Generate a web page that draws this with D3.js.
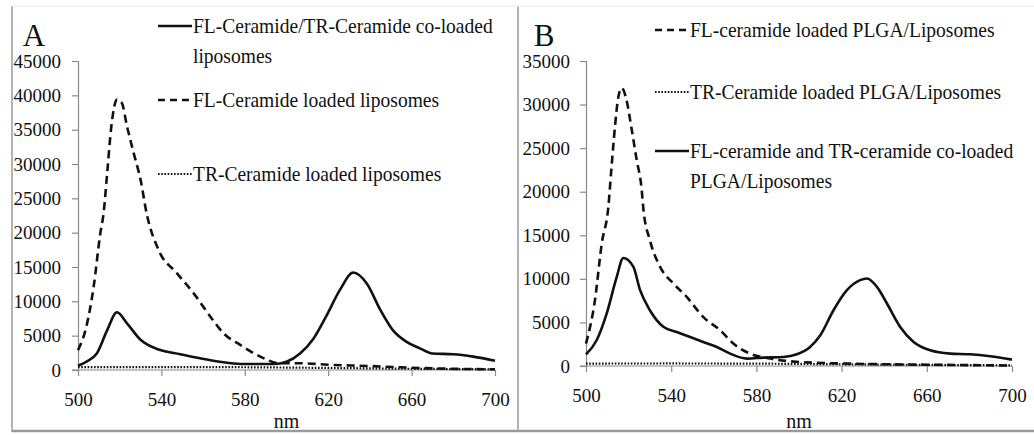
<!DOCTYPE html>
<html>
<head>
<meta charset="utf-8">
<script src="https://cdn.jsdelivr.net/npm/d3@7"></script>
<style>
  body { margin: 0; background: #fff; }
  svg text { font-family: "Liberation Serif", "Times New Roman", serif !important; fill: #111; }
</style>
</head>
<body>
<svg id="chart"></svg>
<script>
const width = 1034;
const height = 435;

// panel A
const coA_nm  = [500, 504, 509, 514, 518.7, 523.5, 530, 539.5, 549, 558.6, 568, 578, 594, 600, 606.5, 613, 619, 625.7, 632, 638.5, 645, 651, 657.6, 664, 670, 680, 689.6, 700];
const coA_val = [630, 1200, 2400, 5800, 8400, 6800, 4400, 2900, 2300, 1700, 1200, 870, 870, 1200, 2400, 4600, 7800, 11700, 14200, 12600, 8750, 5800, 4100, 3150, 2400, 2300, 1950, 1350];

const flA_nm  = [500, 504, 507.5, 510.7, 512.3, 514, 516, 518.7, 521, 523.5, 526.7, 530, 533, 538.6, 547.4, 555.4, 563.4, 569.8, 577.8, 587.4, 597, 606.5, 622.5, 638.5, 654.4, 670, 700];
const flA_val = [2900, 6300, 12100, 19900, 22900, 28700, 35500, 39400, 38900, 35500, 31600, 27700, 22700, 17500, 14100, 11200, 7800, 5350, 3650, 1950, 980, 980, 730, 590, 390, 240, 100];

const trA_nm  = [500, 540, 580, 620, 660, 700];
const trA_val = [420, 430, 400, 300, 180, 100];

// panel B
const flB_nm  = [500, 504.2, 507.4, 510.5, 512, 513.6, 515.2, 516.8, 519, 521.5, 523.8, 526, 527, 530, 534.8, 541, 547.3, 555, 563, 569.2, 577, 586.4, 600.5, 624, 660, 700];
const flB_val = [2570, 7550, 14060, 18270, 22870, 27460, 30900, 31900, 30530, 27080, 23630, 20570, 17890, 14440, 11380, 9470, 7930, 5630, 4100, 2570, 1420, 850, 460, 270, 150, 60];

const trB_nm  = [500, 540, 580, 620, 660, 700];
const trB_val = [280, 290, 270, 200, 130, 80];

const coB_nm  = [500, 505, 509.7, 514.4, 517.5, 522.2, 525.4, 530, 536.3, 542.6, 548.9, 555, 561.4, 567.7, 575.5, 583.3, 592.7, 599, 605.2, 610, 616.2, 622.5, 628.7, 631.9, 636.6, 641.3, 647.5, 653.8, 661.6, 671, 680.4, 689.8, 700];
const coB_val = [1340, 2950, 6000, 10200, 12400, 11400, 8700, 6400, 4500, 3900, 3330, 2760, 2180, 1420, 850, 960, 1030, 1340, 2180, 3530, 6400, 8700, 9850, 10040, 9080, 7170, 4480, 2760, 1800, 1420, 1340, 1110, 730];

const xTicks = [500, 540, 580, 620, 660, 700];
const yTicksA = d3.range(0, 45001, 5000);
const yTicksB = d3.range(0, 35001, 5000);

const serif = '"Liberation Serif", "Times New Roman", serif';

const styles = {
  solid:  { dash: null,    width: 2.6 },
  dashed: { dash: "8,5",   width: 2.6 },
  dotted: { dash: "1.6,1.6", width: 2.2 }
};

const svg = d3.select("#chart")
  .attr("width", width)
  .attr("height", height);

// frame
const frame = svg.append("g").attr("stroke-width", 1.5).attr("fill", "none");
frame.append("line").attr("x1", 12).attr("x2", 12).attr("y1", 6).attr("y2", 432).attr("stroke", "#9a9a9a");
frame.append("line").attr("x1", 518).attr("x2", 518).attr("y1", 6).attr("y2", 432).attr("stroke", "#9a9a9a");
frame.append("line").attr("x1", 12).attr("x2", width).attr("y1", 431).attr("y2", 431).attr("stroke", "#9a9a9a").attr("stroke-width", 2.5);
frame.append("line").attr("x1", 12).attr("x2", width).attr("y1", 6).attr("y2", 6).attr("stroke", "#eef2ee");

function drawPanel(p) {
  const g = svg.append("g");

  const x = d3.scaleLinear().domain([500, 700]).range([p.left, p.right]);
  const y = d3.scaleLinear().domain([0, p.yMax]).range([p.bottom, p.top]);

  const yAxis = d3.axisLeft(y).tickValues(p.yTicks).tickFormat(d3.format("d")).tickSize(6).tickPadding(p.yPad);
  const yg = g.append("g").attr("transform", `translate(${p.left},0)`).call(yAxis);

  const xAxis = d3.axisBottom(x).tickValues(xTicks).tickFormat(d3.format("d")).tickSize(6).tickPadding(17);
  const xg = g.append("g").attr("transform", `translate(0,${p.bottom})`).call(xAxis);

  [yg, xg].forEach(a => {
    a.attr("font-family", null).attr("font-size", null);
    a.select(".domain").attr("stroke", "#8a8a8a").attr("stroke-width", 1.2);
    a.selectAll(".tick line").attr("stroke", "#8a8a8a").attr("stroke-width", 1.2);
    a.selectAll(".tick text").style("font-size", "19px").style("font-family", serif).attr("fill", "#111");
  });
  // x axis starts at the zero tick of the y axis
  xg.select(".domain").attr("d", `M${p.left - 6},0H${p.right}`);

  g.append("text")
    .attr("x", (p.left + p.right) / 2)
    .attr("y", 428)
    .attr("text-anchor", "middle")
    .style("font-size", "20px")
    .text("nm");

  g.append("text")
    .attr("x", p.letterX)
    .attr("y", 46)
    .attr("text-anchor", "middle")
    .style("font-size", "31px")
    .text(p.letter);

  const line = d3.line()
    .x(d => x(d[0]))
    .y(d => y(d[1]))
    .curve(d3.curveMonotoneX);

  p.series.forEach(s => {
    const st = styles[s.style];
    g.append("path")
      .datum(d3.zip(s.nm, s.val))
      .attr("fill", "none")
      .attr("stroke", "#111")
      .attr("stroke-width", st.width)
      .attr("stroke-linejoin", "round")
      .attr("stroke-dasharray", st.dash)
      .attr("d", line);
  });

  // legend
  const lg = g.append("g");
  p.legend.forEach(l => {
    const st = styles[l.style];
    lg.append("line")
      .attr("x1", p.legX).attr("x2", p.legX + 34)
      .attr("y1", l.y - 7).attr("y2", l.y - 7)
      .attr("stroke", "#111")
      .attr("stroke-width", st.width)
      .attr("stroke-dasharray", l.style === "dashed" ? "7,5" : st.dash);
    l.lines.forEach((t, i) => {
      lg.append("text")
        .attr("transform", `translate(${p.legX + 35},${l.y + i * 30}) scale(0.93,1)`)
        .style("font-size", "21px")
        .text(t);
    });
  });
}

drawPanel({
  letter: "A", letterX: 34,
  left: 78, right: 495, top: 61, bottom: 370, yMax: 45000, yTicks: yTicksA, yPad: 11,
  series: [
    { nm: trA_nm, val: trA_val, style: "dotted" },
    { nm: flA_nm, val: flA_val, style: "dashed" },
    { nm: coA_nm, val: coA_val, style: "solid" }
  ],
  legX: 158,
  legend: [
    { style: "solid",  y: 33,  lines: ["FL-Ceramide/TR-Ceramide co-loaded", "liposomes"] },
    { style: "dashed", y: 107, lines: ["FL-Ceramide loaded liposomes"] },
    { style: "dotted", y: 181, lines: ["TR-Ceramide loaded liposomes"] }
  ]
});

drawPanel({
  letter: "B", letterX: 544,
  left: 586, right: 1012, top: 61, bottom: 366, yMax: 35000, yTicks: yTicksB, yPad: 10,
  series: [
    { nm: trB_nm, val: trB_val, style: "dotted" },
    { nm: flB_nm, val: flB_val, style: "dashed" },
    { nm: coB_nm, val: coB_val, style: "solid" }
  ],
  legX: 655,
  legend: [
    { style: "dashed", y: 37,  lines: ["FL-ceramide loaded PLGA/Liposomes"] },
    { style: "dotted", y: 99,  lines: ["TR-Ceramide loaded PLGA/Liposomes"] },
    { style: "solid",  y: 158, lines: ["FL-ceramide and TR-ceramide co-loaded", "PLGA/Liposomes"] }
  ]
});
</script>
</body>
</html>
